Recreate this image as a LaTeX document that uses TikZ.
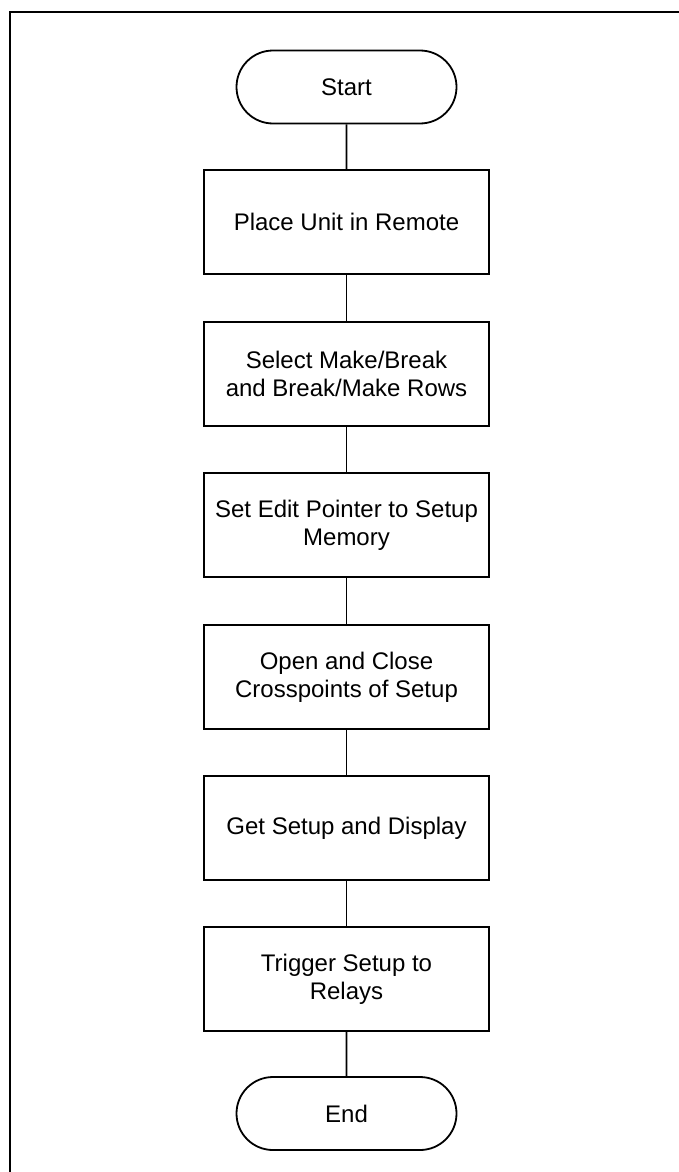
\documentclass[tikz,border=0pt]{standalone}
\usepackage{fontspec}
\setmainfont{Liberation Sans}
\usetikzlibrary{shapes.misc}
\tikzset{
  proc/.style={draw, line width=1.8pt, minimum width=285pt, minimum height=104pt,
    inner sep=0pt, align=center, font=\fontsize{24}{28}\selectfont},
  term/.style={draw, rounded rectangle, line width=1.8pt, minimum width=220pt,
    minimum height=73pt, inner sep=0pt, font=\fontsize{24}{28}\selectfont},
  conn/.style={line width=1.8pt},
  frame/.style={line width=2pt}
}
\begin{document}
\begin{tikzpicture}[x=1pt,y=-1pt]
\useasboundingbox (0,0) rectangle (679,1172);
\coordinate (fb) at (10,1172);
\coordinate (fc) at (10,12);
\coordinate (fr) at (679,12);
\draw[frame] (fb) -- (fc) -- (fr);
\node[term] (start) at (346.5,87) {Start};
\node[proc] (b1) at (346.5,222) {Place Unit in Remote};
\node[proc] (b2) at (346.5,374) {Select Make/Break\\and Break/Make Rows};
\node[proc] (b3) at (346.5,525) {Set Edit Pointer to Setup\\Memory};
\node[proc] (b4) at (346.5,677) {Open and Close\\Crosspoints of Setup};
\node[proc] (b5) at (346.5,828) {Get Setup and Display};
\node[proc] (b6) at (346.5,979) {Trigger Setup to\\Relays};
\node[term] (end) at (346.5,1113.5) {End};
\draw[conn] (start) -- (b1);
\draw[conn] (b1) -- (b2);
\draw[conn] (b2) -- (b3);
\draw[conn] (b3) -- (b4);
\draw[conn] (b4) -- (b5);
\draw[conn] (b5) -- (b6);
\draw[conn] (b6) -- (end);
\end{tikzpicture}
\end{document}
